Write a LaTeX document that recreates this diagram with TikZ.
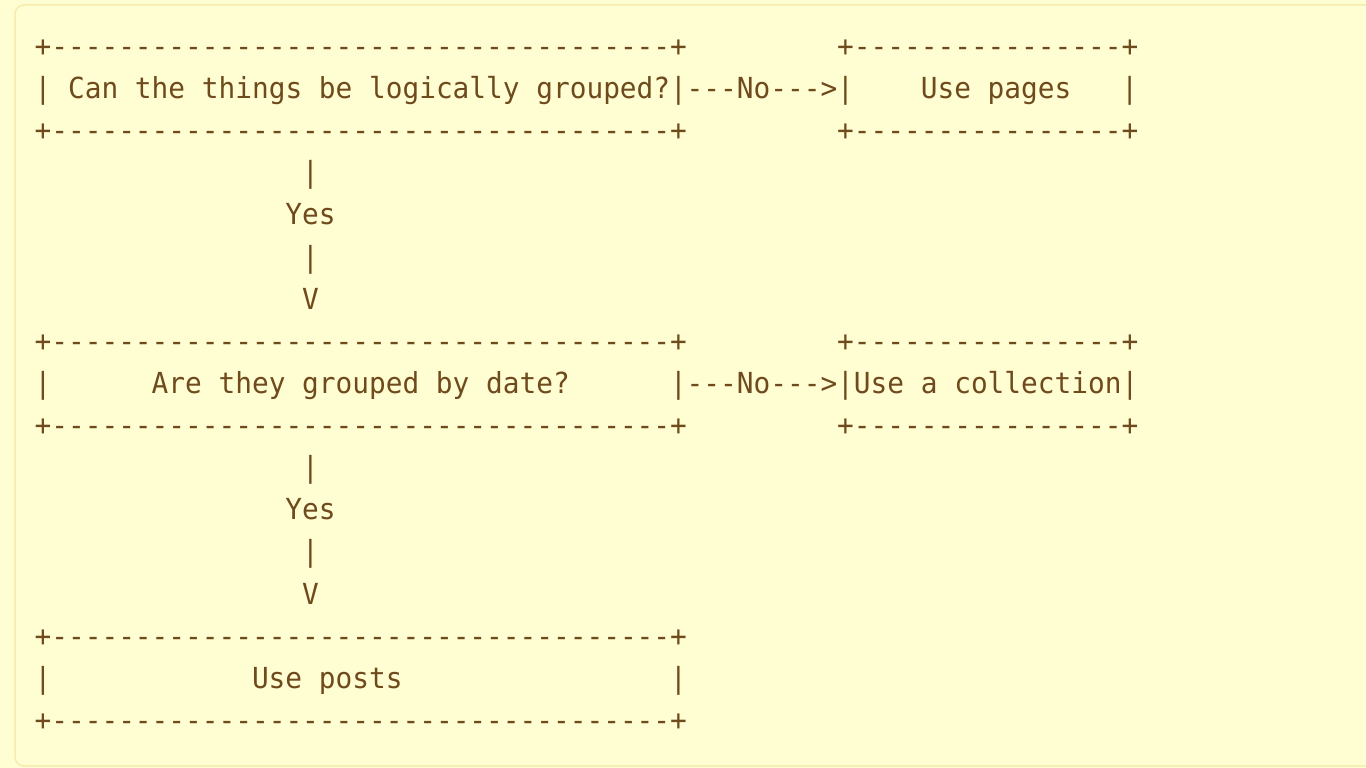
\documentclass[tikz,border=0pt]{standalone}
\usepackage{fontspec}
\newfontfamily\asc{DejaVu Sans Mono}[FakeStretch=0.958,Ligatures=TeXOff]
\definecolor{ink}{HTML}{6E4A1C}
\definecolor{paper}{HTML}{FFFDD2}
\definecolor{rim}{HTML}{F7EBAE}
\newcommand\rep[2]{\foreach \n in {1,...,#1}{#2}}
\begin{document}
\begin{tikzpicture}[x=1pt,y=1pt,
  asc/.style={anchor=base west, inner sep=0pt, outer sep=0pt, text=ink,
              font=\asc\fontsize{29}{35}\selectfont}]
\useasboundingbox (0,0) rectangle (1366,768);
\fill[paper] (0,0) rectangle (1366,768);
\draw[rim, line width=1.5pt, fill=paper, rounded corners=9pt] (15,2) rectangle (1380,763);
\begin{scope}[x=16.72pt, y=-42.125pt, shift={(34.64pt,711.6pt)}]
  % box 1 and "Use pages"
  \node[asc] (q1top) at (0,0) {+\rep{37}{-}+};
  \node[asc] (pgtop) at (48,0) {+\rep{16}{-}+};
  \node[asc] (q1l) at (0,1) {|};
  \node[asc] (q1txt) at (2,1) {Can the things be logically grouped?};
  \node[asc] (q1r) at (38,1) {|};
  \node[asc] (no1) at (39,1) {---No--->};
  \node[asc] (pgl) at (48,1) {|};
  \node[asc] (pgtxt) at (53,1) {Use pages};
  \node[asc] (pgr) at (65,1) {|};
  \node[asc] (q1bot) at (0,2) {+\rep{37}{-}+};
  \node[asc] (pgbot) at (48,2) {+\rep{16}{-}+};
  % yes 1
  \node[asc] (y1a) at (16,3) {|};
  \node[asc] (y1) at (15,4) {Yes};
  \node[asc] (y1b) at (16,5) {|};
  \node[asc] (y1v) at (16,6) {V};
  % box 2 and "Use a collection"
  \node[asc] (q2top) at (0,7) {+\rep{37}{-}+};
  \node[asc] (cotop) at (48,7) {+\rep{16}{-}+};
  \node[asc] (q2l) at (0,8) {|};
  \node[asc] (q2txt) at (7,8) {Are they grouped by date?};
  \node[asc] (q2r) at (38,8) {|};
  \node[asc] (no2) at (39,8) {---No--->};
  \node[asc] (cotxt) at (48,8) {|Use a collection|};
  \node[asc] (q2bot) at (0,9) {+\rep{37}{-}+};
  \node[asc] (cobot) at (48,9) {+\rep{16}{-}+};
  % yes 2
  \node[asc] (y2a) at (16,10) {|};
  \node[asc] (y2) at (15,11) {Yes};
  \node[asc] (y2b) at (16,12) {|};
  \node[asc] (y2v) at (16,13) {V};
  % box 3
  \node[asc] (pstop) at (0,14) {+\rep{37}{-}+};
  \node[asc] (psl) at (0,15) {|};
  \node[asc] (pstxt) at (13,15) {Use posts};
  \node[asc] (psr) at (38,15) {|};
  \node[asc] (psbot) at (0,16) {+\rep{37}{-}+};
\end{scope}
\end{tikzpicture}
\end{document}
